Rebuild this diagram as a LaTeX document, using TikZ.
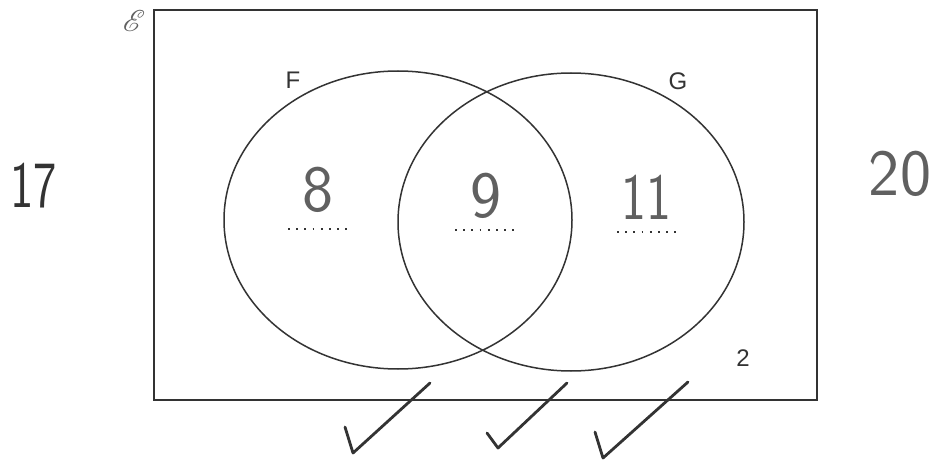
\documentclass[tikz,border=0pt]{standalone}
\usepackage{fontspec}
\usepackage{mathrsfs}
\usetikzlibrary{shapes.geometric}
\newfontfamily\labelfont{Liberation Sans}
\definecolor{ink}{HTML}{333333}
\definecolor{pencil}{HTML}{606060}
\begin{document}
\begin{tikzpicture}[x=1pt,y=-1pt,
  setlabel/.style={font=\labelfont\fontsize{24}{24}\selectfont, text=ink, inner sep=0pt},
  hand/.style={font=\sffamily\fontsize{66}{66}\selectfont, text=pencil, inner sep=0pt},
  dots/.style={line width=1.8pt, draw=ink, dash pattern=on 1.8pt off 6.4pt},
  tick/.style={draw=ink, line width=2.8pt, line cap=round, line join=round}]
\useasboundingbox (0,0) rectangle (935,460);
\fill[white] (0,0) rectangle (935,460);
% universal set
\node[draw=ink, line width=2.2pt, minimum width=663pt, minimum height=390pt, inner sep=0pt] (U) at (485.5,205) {};
\node[text=pencil, inner sep=0pt, scale=1.45, font=\fontsize{20}{20}\selectfont] (E) at (134,21) {$\mathscr{E}$};
% sets
\node[ellipse, draw=ink, line width=1.5pt, minimum width=348pt, minimum height=298pt, inner sep=0pt] (Fc) at (398,220) {};
\node[ellipse, draw=ink, line width=1.5pt, minimum width=346pt, minimum height=298pt, inner sep=0pt] (Gc) at (571,222) {};
\node[setlabel] (F) at (293,80) {F};
\node[setlabel] (G) at (678,81) {G};
\node[setlabel] (two) at (743,358) {2};
% handwritten values
\node[hand] (n8) at (318,190) {8};
\node[hand] (n9) at (486,196) {9};
\node[hand, xscale=0.8] (n11) at (646,197) {11};
\node[hand, text=ink, xscale=0.75] (n17) at (34,186) {17};
\node[hand] (n20) at (900,174) {20};
% dotted answer lines
\coordinate (d1a) at (288,229); \coordinate (d1b) at (347,229);
\coordinate (d2a) at (455,230); \coordinate (d2b) at (514,230);
\coordinate (d3a) at (617,232); \coordinate (d3b) at (676,232);
\draw[dots] (d1a) -- (d1b);
\draw[dots] (d2a) -- (d2b);
\draw[dots] (d3a) -- (d3b);
% ticks
\coordinate (t1a) at (345,427); \coordinate (t1b) at (353,453); \coordinate (t1c) at (430,383);
\coordinate (t2a) at (487,433); \coordinate (t2b) at (498,448); \coordinate (t2c) at (567,383);
\coordinate (t3a) at (595,432); \coordinate (t3b) at (603,458); \coordinate (t3c) at (688,382);
\draw[tick] (t1a) -- (t1b) -- (t1c);
\draw[tick] (t2a) -- (t2b) -- (t2c);
\draw[tick] (t3a) -- (t3b) -- (t3c);
\end{tikzpicture}
\end{document}
